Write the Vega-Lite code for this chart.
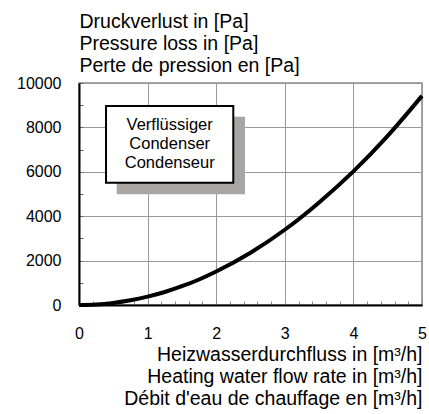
{
  "$schema": "https://vega.github.io/schema/vega-lite/v6.json",
  "width": 343,
  "height": 222,
  "autosize": "none",
  "padding": {"left": 79, "top": 83, "right": 7, "bottom": 109},
  "config": {
    "font": "Liberation Sans",
    "view": {"stroke": "#888", "strokeWidth": 1.5},
    "axis": {"labelFont": "Liberation Sans", "titleFont": "Liberation Sans"}
  },
  "datasets": {
    "curve": [
      {"flow": 0, "loss": 0},
      {"flow": 0.25, "loss": 25},
      {"flow": 0.5, "loss": 95},
      {"flow": 0.75, "loss": 210},
      {"flow": 1, "loss": 375},
      {"flow": 1.25, "loss": 585},
      {"flow": 1.5, "loss": 845},
      {"flow": 1.75, "loss": 1150},
      {"flow": 2, "loss": 1510},
      {"flow": 2.5, "loss": 2355},
      {"flow": 3, "loss": 3390},
      {"flow": 3.5, "loss": 4620},
      {"flow": 4, "loss": 6020},
      {"flow": 4.5, "loss": 7620},
      {"flow": 5, "loss": 9420}
    ],
    "boxes": [
      {"kind": "shadow", "flow": 0.55, "flow2": 2.42, "loss": 4986, "loss2": 8482},
      {"kind": "box", "flow": 0.394, "flow2": 2.249, "loss": 5509, "loss2": 8964}
    ],
    "labels": [
      {"flow": 1.322, "loss": 8108, "label": "Verflüssiger\nCondenser\nCondenseur"}
    ]
  },
  "encoding": {
    "x": {
      "field": "flow",
      "type": "quantitative",
      "scale": {"domain": [0, 5], "nice": false, "zero": false},
      "axis": {
        "values": [0, 0.2, 0.4, 0.6, 0.8, 1, 1.2, 1.4, 1.6, 1.8, 2, 2.2, 2.4, 2.6, 2.8, 3, 3.2, 3.4, 3.6, 3.8, 4, 4.2, 4.4, 4.6, 4.8, 5],
        "labelExpr": "datum.value % 1 === 0 ? '' + datum.value : ''",
        "labelOverlap": false,
        "labelFlush": false,
        "labelFontSize": 16,
        "labelColor": "#000",
        "labelPadding": 24,
        "tickSize": -4,
        "tickColor": "#888",
        "tickWidth": 1,
        "domainColor": "#000",
        "domainWidth": 2,
        "grid": true,
        "gridColor": "#999",
        "gridWidth": 1,
        "gridOpacity": {"condition": {"test": "datum.value % 1 === 0", "value": 1}, "value": 0},
        "title": ["Heizwasserdurchfluss in [m³/h]", "Heating water flow rate in [m³/h]", "Débit d'eau de chauffage en [m³/h]"],
        "titleFontSize": 19.5,
        "titleFontWeight": "normal",
        "titleColor": "#000",
        "titleAlign": "right",
        "titleAnchor": "end",
        "titleX": 343,
        "titleY": 40,
        "titleBaseline": "top",
        "titleLineHeight": 22
      }
    },
    "y": {
      "field": "loss",
      "type": "quantitative",
      "scale": {"domain": [0, 10000], "nice": false},
      "axis": {
        "values": [0, 1000, 2000, 3000, 4000, 5000, 6000, 7000, 8000, 9000, 10000],
        "labelExpr": "datum.value % 2000 === 0 ? '' + datum.value : ''",
        "labelOverlap": false,
        "labelFlush": false,
        "labelFontSize": 16,
        "labelColor": "#000",
        "labelPadding": 22,
        "tickSize": -4,
        "tickColor": "#666",
        "tickWidth": 1,
        "domainColor": "#000",
        "domainWidth": 2,
        "grid": true,
        "gridColor": "#999",
        "gridWidth": 1,
        "gridOpacity": {"condition": {"test": "datum.value % 2000 === 0", "value": 1}, "value": 0},
        "title": ["Druckverlust in [Pa]", "Pressure loss in [Pa]", "Perte de pression en [Pa]"],
        "titleFontSize": 19.5,
        "titleFontWeight": "normal",
        "titleColor": "#000",
        "titleAngle": 0,
        "titleAlign": "left",
        "titleX": 0,
        "titleY": -71,
        "titleBaseline": "top",
        "titleLineHeight": 22
      }
    }
  },
  "layer": [
    {
      "data": {"name": "boxes"},
      "transform": [{"filter": "datum.kind === 'shadow'"}],
      "mark": {"type": "rect", "color": "#a9a5a2"},
      "encoding": {"x2": {"field": "flow2"}, "y2": {"field": "loss2"}}
    },
    {
      "data": {"name": "boxes"},
      "transform": [{"filter": "datum.kind === 'box'"}],
      "mark": {"type": "rect", "fill": "#fff", "stroke": "#000", "strokeWidth": 2},
      "encoding": {"x2": {"field": "flow2"}, "y2": {"field": "loss2"}}
    },
    {
      "data": {"name": "labels"},
      "mark": {"type": "text", "fontSize": 16.5, "lineBreak": "\n", "lineHeight": 19, "align": "center", "baseline": "middle", "color": "#000"},
      "encoding": {"text": {"field": "label"}}
    },
    {
      "data": {"name": "curve"},
      "mark": {"type": "line", "color": "#000", "strokeWidth": 4, "interpolate": "monotone"},
      "encoding": {}
    }
  ]
}
